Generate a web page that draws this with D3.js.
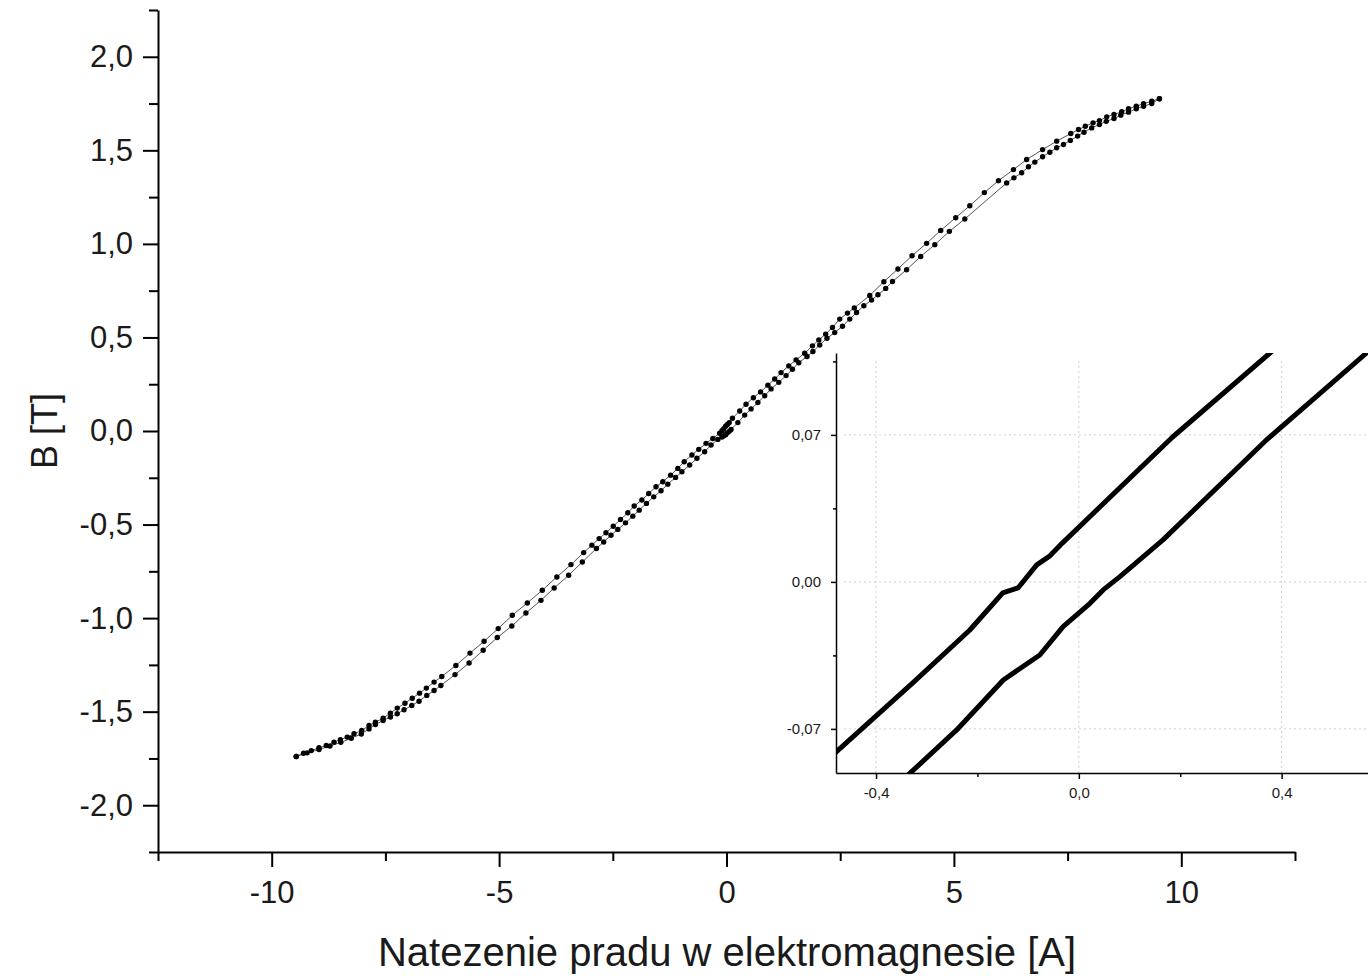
<!DOCTYPE html>
<html>
<head>
<meta charset="utf-8">
<script src="https://cdn.jsdelivr.net/npm/d3@7"></script>
<style>
  body { margin: 0; background: #fff; }
  svg { display: block; }
  text { font-family: "Liberation Sans", Arial, sans-serif; fill: #1a1a1a; }
</style>
</head>
<body>
<svg id="chart" width="1368" height="979"></svg>
<script>
// Hysteresis loop of the electromagnet core: B [T] vs coil current [A]
// Descending branch (from +saturation down to -saturation)
const descI = [9.52, 9.35, 9.17, 9.01, 8.84, 8.69, 8.52, 8.36, 8.20, 8.06, 7.89, 7.74, 7.57, 7.26, 6.95, 6.60, 6.31, 5.98, 5.67, 5.35,
  5.04, 4.71, 4.40, 4.08, 3.77, 3.46, 3.15, 2.81, 2.66, 2.49, 2.33, 2.18, 2.03, 1.89, 1.72, 1.53, 1.37, 1.20, 1.06, 0.91,
  0.75, 0.59, 0.43, 0.29, 0.13, 0.06, 0.02, -0.02, -0.06, -0.10, -0.15, -0.30, -0.45, -0.61, -0.76, -0.93, -1.07, -1.23, -1.40, -1.55,
  -1.71, -1.86, -2.03, -2.17, -2.33, -2.49, -2.65, -2.80, -2.96, -3.14, -3.42, -3.73, -4.05, -4.38, -4.71, -5.02, -5.33, -5.64, -5.95, -6.26,
  -6.43, -6.60, -6.75, -6.91, -7.07, -7.24, -7.39, -7.55, -7.72, -7.86, -8.02, -8.19, -8.34, -8.49, -8.63, -8.80, -8.96, -9.13, -9.30, -9.46];
const descB = [1.776, 1.763, 1.749, 1.736, 1.722, 1.706, 1.692, 1.679, 1.659, 1.647, 1.629, 1.611, 1.590, 1.549, 1.504, 1.451, 1.397, 1.338, 1.274, 1.204,
  1.140, 1.072, 1.003, 0.937, 0.866, 0.798, 0.724, 0.658, 0.630, 0.598, 0.553, 0.518, 0.487, 0.455, 0.416, 0.380, 0.348, 0.312, 0.278, 0.245,
  0.209, 0.178, 0.143, 0.107, 0.068, 0.045, 0.035, 0.025, 0.012, 0.002, -0.012, -0.040, -0.066, -0.098, -0.128, -0.164, -0.200, -0.236, -0.271, -0.298,
  -0.334, -0.369, -0.401, -0.437, -0.473, -0.509, -0.544, -0.575, -0.610, -0.650, -0.714, -0.780, -0.851, -0.919, -0.985, -1.056, -1.124, -1.187, -1.253, -1.312,
  -1.342, -1.374, -1.401, -1.428, -1.455, -1.481, -1.508, -1.535, -1.556, -1.574, -1.601, -1.618, -1.636, -1.650, -1.663, -1.681, -1.693, -1.708, -1.722, -1.740];

// Ascending branch (from -saturation back up to +saturation)
const ascI = [-9.46, -9.22, -8.96, -8.72, -8.48, -8.25, -8.03, -7.86, -7.72, -7.55, -7.39, -7.24, -7.09, -6.92, -6.76, -6.59, -6.43, -6.28, -5.97, -5.66,
  -5.35, -5.04, -4.72, -4.41, -4.08, -3.79, -3.47, -3.17, -2.86, -2.70, -2.54, -2.39, -2.22, -2.06, -1.92, -1.76, -1.60, -1.44, -1.29, -1.12,
  -0.98, -0.81, -0.65, -0.48, -0.34, -0.19, -0.10, -0.06, -0.02, 0.02, 0.06, 0.10, 0.25, 0.40, 0.54, 0.69, 0.84, 0.98, 1.15, 1.31,
  1.45, 1.59, 1.77, 1.90, 2.05, 2.21, 2.38, 2.55, 2.71, 2.86, 3.02, 3.19, 3.33, 3.50, 3.65, 3.96, 4.27, 4.58, 4.90, 5.24,
  6.16, 6.32, 6.49, 6.64, 6.78, 6.95, 7.11, 7.26, 7.41, 7.56, 7.72, 7.86, 8.03, 8.20, 8.35, 8.52, 8.67, 8.84, 9.01, 9.17, 9.35, 9.52];
const ascB = [-1.740, -1.720, -1.702, -1.684, -1.664, -1.642, -1.619, -1.592, -1.569, -1.547, -1.529, -1.511, -1.490, -1.467, -1.444, -1.413, -1.387, -1.360, -1.302, -1.240,
  -1.172, -1.104, -1.042, -0.973, -0.905, -0.839, -0.771, -0.700, -0.628, -0.593, -0.557, -0.526, -0.491, -0.455, -0.423, -0.387, -0.352, -0.319, -0.284, -0.248,
  -0.218, -0.182, -0.146, -0.111, -0.075, -0.045, -0.032, -0.026, -0.020, -0.010, -0.002, 0.008, 0.045, 0.085, 0.118, 0.152, 0.188, 0.225, 0.260, 0.296,
  0.330, 0.365, 0.398, 0.425, 0.460, 0.496, 0.526, 0.560, 0.598, 0.633, 0.669, 0.700, 0.728, 0.762, 0.799, 0.862, 0.933, 0.996, 1.067, 1.133,
  1.326, 1.353, 1.380, 1.412, 1.437, 1.466, 1.490, 1.514, 1.531, 1.553, 1.576, 1.597, 1.620, 1.638, 1.655, 1.670, 1.688, 1.704, 1.722, 1.736, 1.750, 1.776];

// Fine scan around the origin (inset)
const insetDescI = [-0.49, -0.327, -0.215, -0.150, -0.120, -0.083, -0.057, -0.032, 0.185, 0.377, 0.40];
const insetDescB = [-0.0835, -0.048, -0.0229, -0.0052, -0.0029, 0.0081, 0.0124, 0.0186, 0.069, 0.109, 0.114];
const insetAscI = [-0.36, -0.333, -0.241, -0.149, -0.077, -0.031, 0.022, 0.048, 0.081, 0.166, 0.370, 0.567, 0.60];
const insetAscB = [-0.097, -0.0911, -0.0705, -0.0467, -0.0348, -0.0213, -0.0102, -0.0038, 0.0025, 0.020, 0.0676, 0.1089, 0.116];

// Tick values
const mainXTicks = [-10, -5, 0, 5, 10];
const mainXMinor = [-12.5, -7.5, -2.5, 2.5, 7.5, 12.5];
const mainYTicks = [-2.0, -1.5, -1.0, -0.5, 0.0, 0.5, 1.0, 1.5, 2.0];
const mainYMinor = [-2.25, -1.75, -1.25, -0.75, -0.25, 0.25, 0.75, 1.25, 1.75, 2.25];
const insetXTicks = [-0.4, 0.0, 0.4];
const insetXMinor = [-0.2, 0.2];
const insetYTicks = [-0.07, 0.0, 0.07];
const insetYMinor = [-0.035, 0.035, 0.105];

const xLabel = "Natezenie pradu w elektromagnesie [A]";
const yLabel = "B [T]";

const locale = d3.formatLocale({ decimal: ",", thousands: " ", grouping: [3], currency: ["", ""], minus: "-" });
const f1 = locale.format(".1f");
const f2 = locale.format(".2f");
const f0 = locale.format("d");

const svg = d3.select("#chart");

// ---------- main plot ----------
const x = d3.scaleLinear().domain([-12.5, 12.5]).range([158, 1295]);
const y = d3.scaleLinear().domain([-2.25, 2.25]).range([852, 10]);

const loop = descI.map((v, i) => [v, descB[i]]).concat(ascI.map((v, i) => [v, ascB[i]]));

svg.append("path")
  .datum(loop)
  .attr("fill", "none")
  .attr("stroke", "#555")
  .attr("stroke-width", 1)
  .attr("d", d3.line().x(d => x(d[0])).y(d => y(d[1])));

svg.append("g")
  .selectAll("circle")
  .data(loop)
  .join("circle")
  .attr("cx", d => x(d[0]))
  .attr("cy", d => y(d[1]))
  .attr("r", 2.7)
  .attr("fill", "#000");

function styleAxis(g, fs, sw) {
  g.attr("font-size", fs).attr("font-family", null);
  g.selectAll("path.domain").attr("stroke", "#000").attr("stroke-width", sw);
  g.selectAll(".tick line").attr("stroke", "#000").attr("stroke-width", sw);
  g.selectAll(".tick text").attr("fill", "#1a1a1a");
}

const gx = svg.append("g").attr("transform", "translate(0,852)")
  .call(d3.axisBottom(x).tickValues(mainXTicks).tickFormat(f0).tickSize(15).tickSizeOuter(0).tickPadding(14));
styleAxis(gx, 31, 2);
const gxm = svg.append("g").attr("transform", "translate(0,852)")
  .call(d3.axisBottom(x).tickValues(mainXMinor).tickFormat("").tickSize(9).tickSizeOuter(0));
styleAxis(gxm, 31, 2);
gxm.select("path.domain").remove();

const gy = svg.append("g").attr("transform", "translate(158,0)")
  .call(d3.axisLeft(y).tickValues(mainYTicks).tickFormat(f1).tickSize(15).tickSizeOuter(0).tickPadding(10));
styleAxis(gy, 31, 2);
const gym = svg.append("g").attr("transform", "translate(158,0)")
  .call(d3.axisLeft(y).tickValues(mainYMinor).tickFormat("").tickSize(9).tickSizeOuter(0));
styleAxis(gym, 31, 2);
gym.select("path.domain").remove();

svg.append("text")
  .attr("x", 727).attr("y", 966)
  .attr("text-anchor", "middle")
  .attr("font-size", 40)
  .text(xLabel);

svg.append("text")
  .attr("transform", "translate(57,431) rotate(-90)")
  .attr("text-anchor", "middle")
  .attr("font-size", 36)
  .text(yLabel);

// ---------- inset ----------
const ix = d3.scaleLinear().domain([-0.479, 0.6]).range([836, 1383]);
const iy = d3.scaleLinear().domain([-0.091, 0.109]).range([773, 353]);

svg.append("rect")
  .attr("x", 836).attr("y", 353).attr("width", 1368 - 836).attr("height", 773 - 353)
  .attr("fill", "#fff");

svg.append("clipPath").attr("id", "insetClip")
  .append("rect").attr("x", 836).attr("y", 353).attr("width", 1368 - 836).attr("height", 773 - 353);

const grid = svg.append("g")
  .attr("stroke", "#cfcfcf").attr("stroke-width", 1).attr("stroke-dasharray", "2,3");
grid.selectAll("line.v").data(insetXTicks).join("line").attr("class", "v")
  .attr("x1", d => ix(d)).attr("x2", d => ix(d))
  .attr("y1", iy.range()[1] + 8).attr("y2", iy.range()[0]);
grid.selectAll("line.h").data(insetYTicks).join("line").attr("class", "h")
  .attr("x1", ix.range()[0] + 8).attr("x2", 1368)
  .attr("y1", d => iy(d)).attr("y2", d => iy(d));

const iline = d3.line().x(d => ix(d[0])).y(d => iy(d[1]));
const insetCurves = [
  insetDescI.map((v, i) => [v, insetDescB[i]]),
  insetAscI.map((v, i) => [v, insetAscB[i]])
];
svg.append("g").attr("clip-path", "url(#insetClip)")
  .selectAll("path")
  .data(insetCurves)
  .join("path")
  .attr("fill", "none")
  .attr("stroke", "#000")
  .attr("stroke-width", 5)
  .attr("stroke-linejoin", "round")
  .attr("d", iline);

const igx = svg.append("g").attr("transform", "translate(0,773)")
  .call(d3.axisBottom(ix).tickValues(insetXTicks).tickFormat(f1).tickSize(6).tickSizeOuter(0).tickPadding(8));
styleAxis(igx, 15, 1.5);
const igxm = svg.append("g").attr("transform", "translate(0,773)")
  .call(d3.axisBottom(ix).tickValues(insetXMinor).tickFormat("").tickSize(4).tickSizeOuter(0));
styleAxis(igxm, 15, 1.5);
igxm.select("path.domain").remove();

const igy = svg.append("g").attr("transform", "translate(836,0)")
  .call(d3.axisLeft(iy).tickValues(insetYTicks).tickFormat(f2).tickSize(5).tickSizeOuter(0).tickPadding(10));
styleAxis(igy, 15, 1.5);
const igym = svg.append("g").attr("transform", "translate(836,0)")
  .call(d3.axisLeft(iy).tickValues(insetYMinor).tickFormat("").tickSize(3).tickSizeOuter(0));
styleAxis(igym, 15, 1.5);
igym.select("path.domain").remove();
</script>
</body>
</html>
